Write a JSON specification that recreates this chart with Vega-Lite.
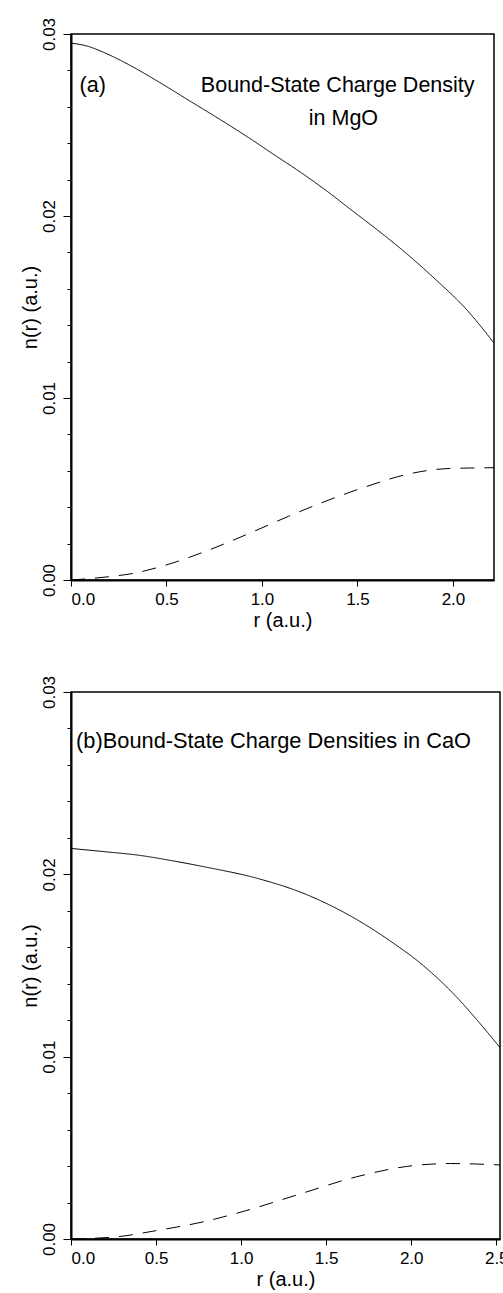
{
  "$schema": "https://vega.github.io/schema/vega-lite/v6.json",
  "padding": {"left": 19, "top": 16, "right": 0, "bottom": 0},
  "background": "white",
  "config": {
    "font": "Liberation Sans",
    "view": {"stroke": "black", "strokeWidth": 1.5},
    "axis": {
      "domainColor": "black", "domainWidth": 2, "tickColor": "black", "tickWidth": 1,
      "labelColor": "black", "titleColor": "black",
      "labelFont": "Liberation Sans", "titleFont": "Liberation Sans",
      "labelFontSize": 17, "titleFontSize": 20, "titleFontWeight": "normal", "grid": false,
      "labelOverlap": false
    }
  },
  "datasets": {
    "mgo": [
      {"curve": "curve1", "r": 0.0, "n": 0.02950},
      {"curve": "curve1", "r": 0.083, "n": 0.02934},
      {"curve": "curve1", "r": 0.169, "n": 0.02900},
      {"curve": "curve1", "r": 0.256, "n": 0.02857},
      {"curve": "curve1", "r": 0.343, "n": 0.02808},
      {"curve": "curve1", "r": 0.464, "n": 0.02734},
      {"curve": "curve1", "r": 0.602, "n": 0.02645},
      {"curve": "curve1", "r": 0.758, "n": 0.02545},
      {"curve": "curve1", "r": 0.931, "n": 0.02430},
      {"curve": "curve1", "r": 1.069, "n": 0.02333},
      {"curve": "curve1", "r": 1.208, "n": 0.02236},
      {"curve": "curve1", "r": 1.346, "n": 0.02132},
      {"curve": "curve1", "r": 1.467, "n": 0.02034},
      {"curve": "curve1", "r": 1.606, "n": 0.01922},
      {"curve": "curve1", "r": 1.727, "n": 0.01820},
      {"curve": "curve1", "r": 1.900, "n": 0.01660},
      {"curve": "curve1", "r": 2.073, "n": 0.01484},
      {"curve": "curve1", "r": 2.215, "n": 0.01302},
      {"curve": "curve2", "r": 0.0, "n": 0.0},
      {"curve": "curve2", "r": 0.152, "n": 0.00013},
      {"curve": "curve2", "r": 0.343, "n": 0.00040},
      {"curve": "curve2", "r": 0.516, "n": 0.00088},
      {"curve": "curve2", "r": 0.723, "n": 0.00165},
      {"curve": "curve2", "r": 0.931, "n": 0.00255},
      {"curve": "curve2", "r": 1.139, "n": 0.00350},
      {"curve": "curve2", "r": 1.346, "n": 0.00438},
      {"curve": "curve2", "r": 1.554, "n": 0.00516},
      {"curve": "curve2", "r": 1.762, "n": 0.00581},
      {"curve": "curve2", "r": 1.969, "n": 0.00612},
      {"curve": "curve2", "r": 2.215, "n": 0.00617}
    ],
    "cao": [
      {"curve": "curve1", "r": 0.0, "n": 0.02142},
      {"curve": "curve1", "r": 0.199, "n": 0.02124},
      {"curve": "curve1", "r": 0.396, "n": 0.02105},
      {"curve": "curve1", "r": 0.593, "n": 0.02075},
      {"curve": "curve1", "r": 0.791, "n": 0.02040},
      {"curve": "curve1", "r": 1.087, "n": 0.01980},
      {"curve": "curve1", "r": 1.382, "n": 0.01890},
      {"curve": "curve1", "r": 1.678, "n": 0.01753},
      {"curve": "curve1", "r": 1.876, "n": 0.01635},
      {"curve": "curve1", "r": 2.073, "n": 0.01498},
      {"curve": "curve1", "r": 2.270, "n": 0.01324},
      {"curve": "curve1", "r": 2.408, "n": 0.01178},
      {"curve": "curve1", "r": 2.522, "n": 0.01050},
      {"curve": "curve2", "r": 0.0, "n": 0.0},
      {"curve": "curve2", "r": 0.278, "n": 0.00013},
      {"curve": "curve2", "r": 0.495, "n": 0.00045},
      {"curve": "curve2", "r": 0.791, "n": 0.00097},
      {"curve": "curve2", "r": 1.027, "n": 0.00155},
      {"curve": "curve2", "r": 1.343, "n": 0.00246},
      {"curve": "curve2", "r": 1.678, "n": 0.00341},
      {"curve": "curve2", "r": 1.974, "n": 0.00398},
      {"curve": "curve2", "r": 2.231, "n": 0.00414},
      {"curve": "curve2", "r": 2.522, "n": 0.00406}
    ],
    "labelsA": [
      {"label": "(a)", "r": 0.045, "n": 0.02714},
      {"label": "Bound-State Charge Density", "r": 0.68, "n": 0.02714},
      {"label": "in MgO", "r": 1.245, "n": 0.02531}
    ],
    "labelsB": [
      {"label": "(b)Bound-State Charge Densities in CaO", "r": 0.03, "n": 0.0273}
    ]
  },
  "vconcat": [
    {
      "width": 423,
      "height": 546,
      "resolve": {"axis": {"y": "independent"}},
      "layer": [
        {
          "data": {"name": "mgo"},
          "mark": {"type": "line", "color": "black", "strokeWidth": 1, "interpolate": "monotone", "clip": true},
          "encoding": {
            "x": {
              "field": "r", "type": "quantitative",
              "scale": {"domain": [0, 2.215], "nice": false, "zero": false},
              "axis": {"values": [0, 0.5, 1, 1.5, 2], "format": ".1f", "tickSize": 6, "labelPadding": 5, "title": "r (a.u.)", "titlePadding": 3}
            },
            "y": {
              "field": "n", "type": "quantitative",
              "scale": {"domain": [0, 0.03], "nice": false},
              "axis": {
                "orient": "left",
                "values": [0, 0.01, 0.02, 0.03], "format": ".2f", "tickSize": 8,
                "labelAngle": -90, "labelAlign": "center", "labelBaseline": "bottom",
                "labelPadding": 5,
                "title": "n(r) (a.u.)", "titlePadding": 0
              }
            },
            "strokeDash": {
              "field": "curve", "type": "nominal",
              "scale": {"domain": ["curve1", "curve2"], "range": [[1, 0], [14, 10]]},
              "legend": null
            }
          }
        },
        {
          "data": {"name": "mgo"},
          "mark": {"type": "line", "opacity": 0},
          "encoding": {
            "x": {"field": "r", "type": "quantitative"},
            "y": {
              "field": "n", "type": "quantitative",
              "axis": {
                "orient": "left",
                "values": [0.002, 0.004, 0.006, 0.008, 0.012, 0.014, 0.016, 0.018, 0.022, 0.024, 0.026, 0.028],
                "tickSize": 4, "labels": false, "domain": false, "title": null
              }
            },
            "detail": {"field": "curve", "type": "nominal"}
          }
        },
        {
          "data": {"name": "labelsA"},
          "mark": {"type": "text", "align": "left", "baseline": "middle", "fontSize": 21.5, "font": "Liberation Sans", "color": "black"},
          "encoding": {
            "x": {"field": "r", "type": "quantitative"},
            "y": {"field": "n", "type": "quantitative", "axis": null},
            "text": {"field": "label", "type": "nominal"}
          }
        }
      ]
    },
    {
      "width": 429,
      "height": 547,
      "resolve": {"axis": {"y": "independent"}},
      "layer": [
        {
          "data": {"name": "cao"},
          "mark": {"type": "line", "color": "black", "strokeWidth": 1, "interpolate": "monotone", "clip": true},
          "encoding": {
            "x": {
              "field": "r", "type": "quantitative",
              "scale": {"domain": [0, 2.522], "nice": false, "zero": false},
              "axis": {"values": [0, 0.5, 1, 1.5, 2, 2.5], "format": ".1f", "tickSize": 6, "labelPadding": 5, "title": "r (a.u.)", "titlePadding": 3}
            },
            "y": {
              "field": "n", "type": "quantitative",
              "scale": {"domain": [0, 0.03], "nice": false},
              "axis": {
                "orient": "left",
                "values": [0, 0.01, 0.02, 0.03], "format": ".2f", "tickSize": 8,
                "labelAngle": -90, "labelAlign": "center", "labelBaseline": "bottom",
                "labelPadding": 5,
                "title": "n(r) (a.u.)", "titlePadding": 0
              }
            },
            "strokeDash": {
              "field": "curve", "type": "nominal",
              "scale": {"domain": ["curve1", "curve2"], "range": [[1, 0], [14, 10]]},
              "legend": null
            }
          }
        },
        {
          "data": {"name": "cao"},
          "mark": {"type": "line", "opacity": 0},
          "encoding": {
            "x": {"field": "r", "type": "quantitative"},
            "y": {
              "field": "n", "type": "quantitative",
              "axis": {
                "orient": "left",
                "values": [0.002, 0.004, 0.006, 0.008, 0.012, 0.014, 0.016, 0.018, 0.022, 0.024, 0.026, 0.028],
                "tickSize": 4, "labels": false, "domain": false, "title": null
              }
            },
            "detail": {"field": "curve", "type": "nominal"}
          }
        },
        {
          "data": {"name": "labelsB"},
          "mark": {"type": "text", "align": "left", "baseline": "middle", "fontSize": 21.8, "font": "Liberation Sans", "color": "black"},
          "encoding": {
            "x": {"field": "r", "type": "quantitative"},
            "y": {"field": "n", "type": "quantitative", "axis": null},
            "text": {"field": "label", "type": "nominal"}
          }
        }
      ]
    }
  ],
  "spacing": 43
}
